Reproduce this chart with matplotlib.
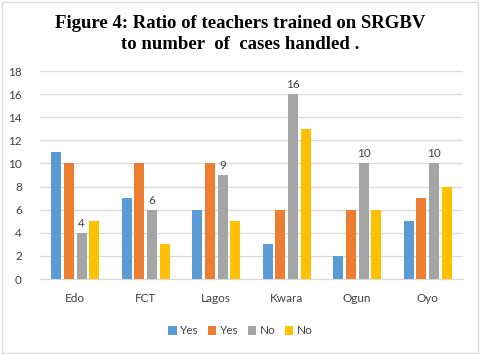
import matplotlib
matplotlib.use("Agg")
import matplotlib.pyplot as plt
import numpy as np
from matplotlib.patches import Rectangle

states = ["Edo", "FCT", "Lagos", "Kwara", "Ogun", "Oyo"]
series_names = ["Yes", "Yes", "No", "No"]
yes_a = [11, 7, 6, 3, 2, 5]
yes_b = [10, 10, 10, 6, 6, 7]
no_a = [4, 6, 9, 16, 10, 10]
no_b = [5, 3, 5, 13, 6, 8]
colors = ["#5B9BD5", "#ED7D31", "#A5A5A5", "#FFC000"]

title = "Figure 4: Ratio of teachers trained on SRGBV\nto number  of  cases handled ."

plt.rcParams["font.family"] = ["Lato", "DejaVu Sans"]
fig = plt.figure(figsize=(4.81, 3.54), dpi=100)
ax = fig.add_axes([40 / 481, 1 - 279 / 354, 423 / 481, 208 / 354])

x = np.arange(len(states))
step, width = 0.18, 0.142
all_series = [yes_a, yes_b, no_a, no_b]
for i, (vals, name, col) in enumerate(zip(all_series, series_names, colors)):
    pos = x + (i - 1.5) * step
    ax.bar(pos, vals, width=width, color=col, label=name, zorder=3)
    if i == 2:
        # only the third series carries data labels
        for p, v in zip(pos, vals):
            ax.text(p, v + 0.35, str(v), ha="center", va="bottom",
                    fontsize=8.5, color="#404040")

ax.set_xlim(-0.5, len(states) - 0.5)
ax.set_ylim(0, 18)
ax.set_yticks(range(0, 19, 2))
ax.set_xticks(x)
ax.set_xticklabels(states)
ax.tick_params(length=0, labelsize=8.5, colors="#404040")
ax.tick_params(axis="x", pad=10)
ax.tick_params(axis="y", pad=13)
ax.grid(axis="y", color="#D9D9D9", linewidth=0.9, zorder=0)
for s in ["top", "right", "left"]:
    ax.spines[s].set_visible(False)
ax.spines["bottom"].set_color("#D9D9D9")

fig.text(0.5, 1 - 34 / 354, title, ha="center", va="center",
         fontsize=13.5, fontweight="bold", family="Liberation Serif",
         linespacing=1.3)

leg = fig.legend(loc="center", bbox_to_anchor=(0.5, 1 - 331 / 354), ncol=4,
                 frameon=False, fontsize=8.5, handlelength=0.7, handleheight=0.7,
                 handletextpad=0.3, columnspacing=0.8)
for t in leg.get_texts():
    t.set_color("#404040")

fig.patches.append(Rectangle((0.004, 0.004), 0.99, 0.99, transform=fig.transFigure,
                             fill=False, edgecolor="#D9D9D9", linewidth=1))

fig.savefig("out.png", dpi=100)
